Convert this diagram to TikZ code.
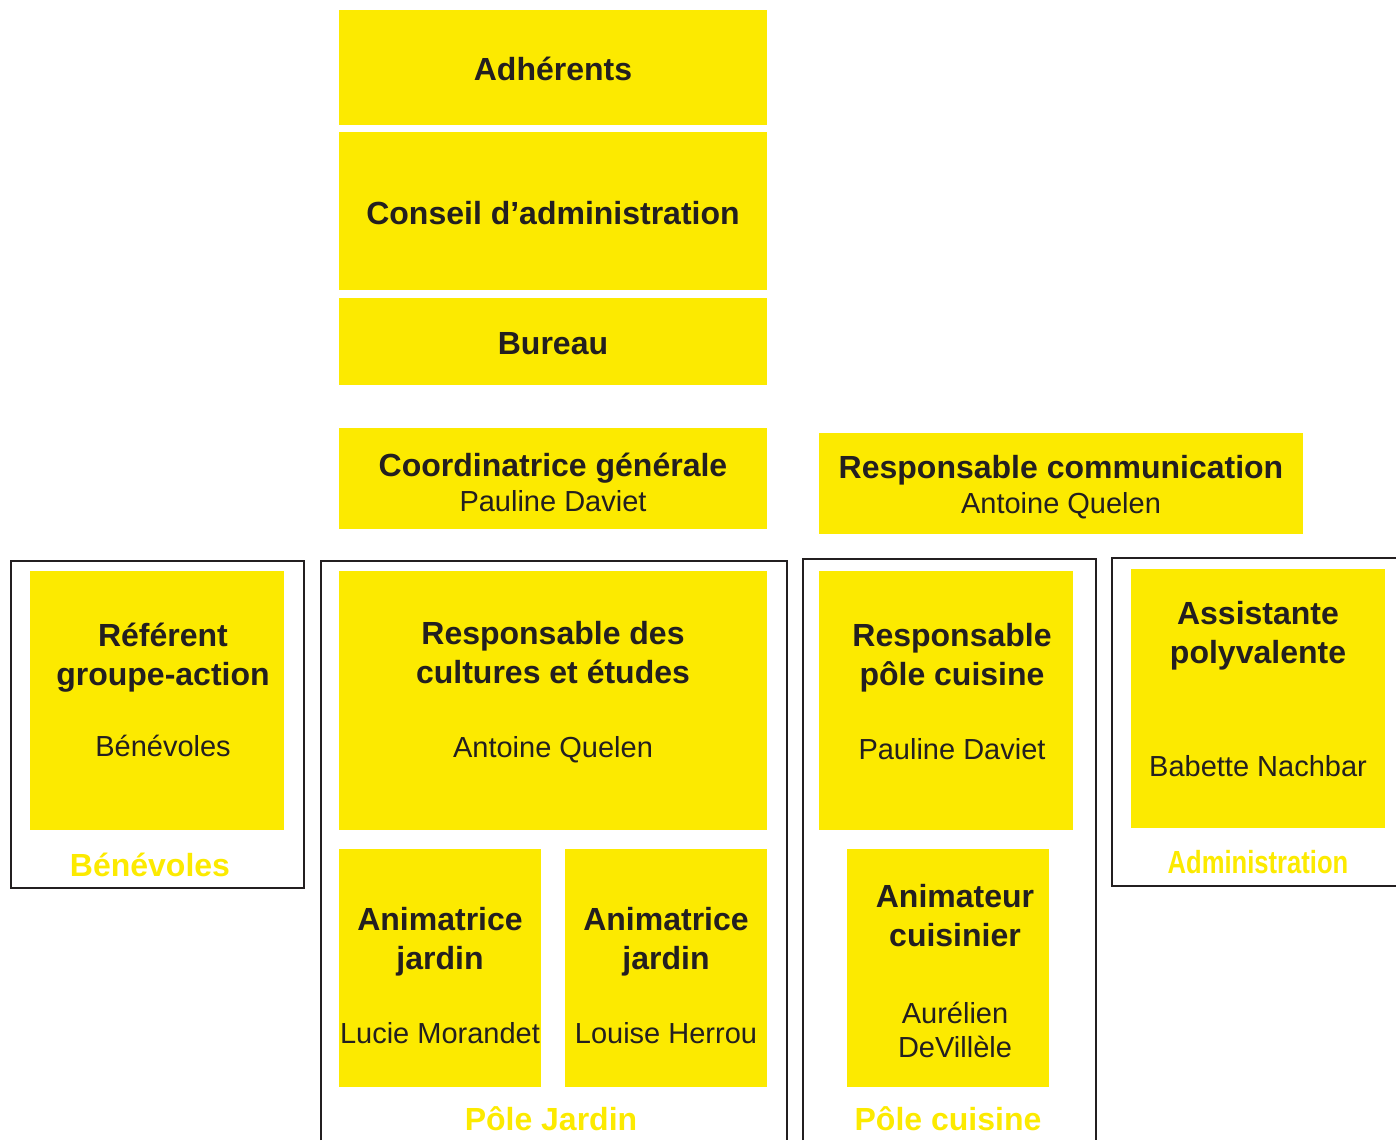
\documentclass[tikz,border=0pt]{standalone}
\usepackage{fontspec}
\setmainfont{Liberation Sans}
\usepackage{graphicx}
\usepackage{tikz}
\usetikzlibrary{
	positioning
}
\definecolor{boxyellow}{HTML}{FCEA00}
\definecolor{ink}{HTML}{231F20}
\tikzset{
	box/.style 2 args={fill=boxyellow, inner sep=0pt, minimum width=#1*0.5pt, minimum height=#2*0.5pt},
	head/.style={font=\bfseries\fontsize{16}{19.5}\selectfont, text=ink, align=center, anchor=base, inner sep=0pt},
	who/.style={font=\fontsize{14.5}{17}\selectfont, text=ink, align=center, anchor=base, inner sep=0pt},
	group/.style={font=\bfseries\fontsize{16}{19.5}\selectfont, text=boxyellow, anchor=base, inner sep=0pt},
	frame/.style={draw=ink, line width=1pt}
}

\begin{document}
\begin{tikzpicture}[x=0.5pt, y=-0.5pt]
		\useasboundingbox (0,0) rectangle (1396,1140);

		% frames of the poles
		\draw[frame] (11,561) rectangle (304,888);
		\draw[frame] (321,1140) -- (321,561) -- (787,561) -- (787,1140);
		\draw[frame] (803,1140) -- (803,559) -- (1096,559) -- (1096,1140);
		\draw[frame] (1396,558) -- (1112,558) -- (1112,886) -- (1396,886);

		% yellow boxes
		\path
			node[box={428}{115}] (adh)   at (553,67.5)  {}
			node[box={428}{158}] (ca)    at (553,211)   {}
			node[box={428}{87}]  (bur)   at (553,341.5) {}
			node[box={428}{101}] (coord) at (553,478.5) {}
			node[box={484}{101}] (com)   at (1061,483.5) {}
			node[box={254}{259}] (ref)   at (157,700.5) {}
			node[box={428}{259}] (cult)  at (553,700.5) {}
			node[box={202}{238}] (anim1) at (440,968)   {}
			node[box={202}{238}] (anim2) at (666,968)   {}
			node[box={254}{259}] (rpc)   at (946,700.5) {}
			node[box={202}{238}] (acu)   at (948,968)   {}
			node[box={254}{259}] (asst)  at (1258,698.5) {}
		;

		% titles and names (base = last line)
		\path
			node[head] (adh-t)   at (553,80)   {Adhérents}
			node[head] (ca-t)    at (553,224)  {Conseil d’administration}
			node[head] (bur-t)   at (553,354)  {Bureau}
			node[head] (coord-t) at (553,476)  {Coordinatrice générale}
			node[who]  (coord-n) at (553,511)  {Pauline Daviet}
			node[head] (com-t)   at (1061,478) {Responsable communication}
			node[who]  (com-n)   at (1061,513) {Antoine Quelen}
			node[head] (ref-t)   at (163,685)  {Référent\\groupe-action}
			node[who]  (ref-n)   at (163,756)  {Bénévoles}
			node[head] (cult-t)  at (553,683)  {Responsable des\\cultures et études}
			node[who]  (cult-n)  at (553,757)  {Antoine Quelen}
			node[head] (anim1-t) at (440,969)  {Animatrice\\jardin}
			node[who]  (anim1-n) at (440,1043) {Lucie Morandet}
			node[head] (anim2-t) at (666,969)  {Animatrice\\jardin}
			node[who]  (anim2-n) at (666,1043) {Louise Herrou}
			node[head] (rpc-t)   at (952,685)  {Responsable\\pôle cuisine}
			node[who]  (rpc-n)   at (952,759)  {Pauline Daviet}
			node[head] (acu-t)   at (955,946)  {Animateur\\cuisinier}
			node[who]  (acu-n)   at (955,1057) {Aurélien\\DeVillèle}
			node[head] (asst-t)  at (1258,663) {Assistante\\polyvalente}
			node[who]  (asst-n)  at (1258,776) {Babette Nachbar}
		;

		% pole names
		\path
			node[group] (benevoles) at (150,876)  {Bénévoles}
			node[group] (jardin)    at (551,1130) {Pôle Jardin}
			node[group] (cuisine)   at (948,1130) {Pôle cuisine}
			node[group] (admin)     at (1258,873) {\scalebox{0.8}[1]{Administration}}
		;
	\end{tikzpicture}
\end{document}
